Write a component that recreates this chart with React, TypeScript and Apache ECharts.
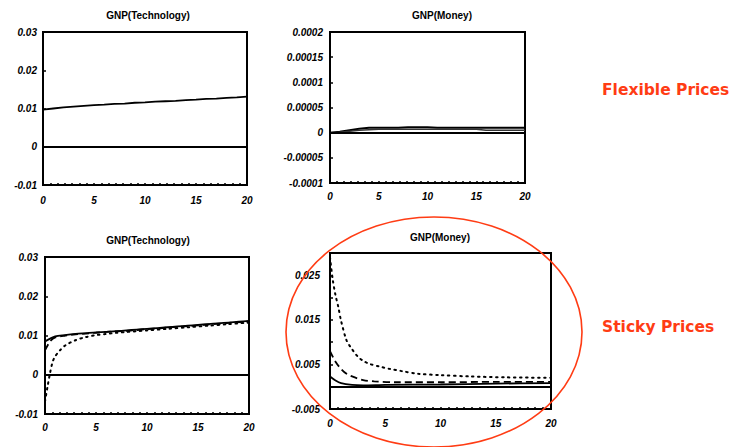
import React, { useEffect, useRef } from "react";
import * as echarts from "echarts";

// ---- data ----
const periods = [0, 1, 2, 3, 4, 5, 6, 7, 8, 9, 10, 11, 12, 13, 14, 15, 16, 17, 18, 19, 20];

// Flexible prices, GNP response to technology shock
const techFlex = [0.0097, 0.0100, 0.0103, 0.0105, 0.0107, 0.0109, 0.0110, 0.0112, 0.0113, 0.0115, 0.0116, 0.0118, 0.0119, 0.0120, 0.0122, 0.0123, 0.0125, 0.0126, 0.0128, 0.0129, 0.0131];

// Flexible prices, GNP response to money shock
const moneyFlexA = [0, 0.000002, 0.000005, 0.000008, 0.00001, 0.00001, 0.00001, 0.00001, 0.000011, 0.000011, 0.000011, 0.00001, 0.00001, 0.00001, 0.00001, 0.00001, 0.00001, 0.00001, 0.00001, 0.00001, 0.00001];
const moneyFlexB = [0, 0.000001, 0.000003, 0.000005, 0.000006, 0.000007, 0.000007, 0.000007, 0.000007, 0.000007, 0.000007, 0.000007, 0.000007, 0.000007, 0.000007, 0.000007, 0.000005, 0.000005, 0.000005, 0.000005, 0.000005];

// Sticky prices, GNP response to technology shock  [period, value]
const techStickySolid = [[0, 0.0085], [1, 0.0098], [2, 0.0101], [3, 0.0104], [4, 0.0106], [5, 0.0108], [6, 0.0109], [7, 0.0111], [8, 0.0113], [9, 0.0115], [10, 0.0117], [11, 0.0119], [12, 0.0121], [13, 0.0123], [14, 0.0125], [15, 0.0127], [16, 0.0129], [17, 0.0131], [18, 0.0133], [19, 0.0135], [20, 0.0137]];
const techStickyDashed = [[0, 0.0062], [0.5, 0.0085], [1, 0.0095], [2, 0.0100], [3, 0.0103], [4, 0.0105], [5, 0.0107], [6, 0.0109], [8, 0.0112], [10, 0.0116], [12, 0.0120], [14, 0.0124], [16, 0.0128], [18, 0.0132], [20, 0.0136]];
const techStickyDotted = [[0, -0.0068], [0.25, -0.003], [0.5, 0.0005], [0.75, 0.0033], [1, 0.0047], [1.5, 0.0063], [2, 0.0075], [3, 0.0088], [4, 0.0096], [5, 0.0101], [6, 0.0104], [7, 0.0107], [8, 0.0109], [9, 0.0111], [10, 0.0113], [12, 0.0117], [14, 0.0121], [16, 0.0125], [18, 0.0129], [20, 0.0133]];

// Sticky prices, GNP response to money shock  [period, value]
const moneyStickySolid = [[0, 0.0023], [0.5, 0.0014], [1, 0.0008], [2, 0.0004], [3, 0.0003], [5, 0.0004], [10, 0.0005], [15, 0.0007], [20, 0.0008]];
const moneyStickyDashed = [[0, 0.0080], [0.5, 0.0056], [1, 0.0040], [1.5, 0.0029], [2, 0.0023], [3, 0.0015], [4, 0.0012], [6, 0.0010], [10, 0.0010], [15, 0.0011], [20, 0.0011]];
const moneyStickyDotted = [[0, 0.0290], [0.25, 0.0240], [0.5, 0.0205], [0.75, 0.0179], [1, 0.0148], [1.5, 0.0104], [2, 0.0084], [2.5, 0.0068], [3, 0.0058], [3.6, 0.0051], [4.5, 0.0045], [5.4, 0.0040], [6.5, 0.0035], [8, 0.0029], [10, 0.0026], [12.7, 0.0023], [16, 0.0021], [20, 0.0020]];

const xTicks = { min: 0, max: 20, interval: 5 };
const panelTitles = ["GNP(Technology)", "GNP(Money)", "GNP(Technology)", "GNP(Money)"];
const rowLabels = ["Flexible Prices", "Sticky Prices"];

const RED = "#ff3c14";
const labelFont = {
  fontFamily: "Liberation Sans, Arial, sans-serif",
  fontWeight: "bold" as const,
  fontStyle: "italic" as const,
  fontSize: 10,
  color: "#000",
};

function xAxis(gridIndex: number, margin: number) {
  return {
    type: "value",
    gridIndex,
    ...xTicks,
    axisLine: { show: true, onZero: false, lineStyle: { color: "#000", width: 2 } },
    axisTick: { show: true, inside: true, length: 2, lineStyle: { color: "#000", width: 1.5 } },
    minorTick: { show: true, splitNumber: 7, length: 2, lineStyle: { color: "#000", width: 1.5 } },
    splitLine: { show: false },
    axisLabel: { ...labelFont, margin },
  };
}

function yAxis(gridIndex: number, min: number, max: number, interval: number, margin: number, formatter: (v: number) => string) {
  return {
    type: "value",
    gridIndex,
    min,
    max,
    interval,
    axisLine: { show: true, onZero: false, lineStyle: { color: "#000", width: 2 } },
    axisTick: { show: true, inside: true, length: 3, lineStyle: { color: "#000", width: 1.5 } },
    splitLine: { show: false },
    axisLabel: { ...labelFont, margin, formatter },
  };
}

const zeroLine = {
  silent: true,
  symbol: "none",
  label: { show: false },
  lineStyle: { color: "#000", width: 2, type: "solid" },
  data: [{ yAxis: 0 }],
};

const solid = { color: "#000", width: 1.8, type: "solid" };
const dashed = { color: "#000", width: 1.8, type: [7, 4] };
const dotted = { color: "#000", width: 2, type: [1.5, 4.5], cap: "round" };

function line(name: string, xi: number, data: any[], lineStyle: any, extra: any = {}) {
  return {
    type: "line",
    name,
    xAxisIndex: xi,
    yAxisIndex: xi,
    data,
    showSymbol: false,
    symbol: "none",
    smooth: 0.3,
    lineStyle,
    ...extra,
  };
}

export default function App() {
  const ref = useRef<HTMLDivElement>(null);
  useEffect(() => {
    if (!ref.current) return;
    const chart = echarts.init(ref.current, null, { renderer: "svg" });
    const pair = (arr: number[]) => arr.map((v, i) => [periods[i], v]);
    const fmtPlain = (v: number) => String(+v.toFixed(6));
    const fmtOdd = (v: number) => {
      const k = Math.round(v * 1000);
      return Math.abs(k % 10) === 5 ? String(+v.toFixed(4)) : "";
    };
    const gridStyle = { show: true, borderColor: "#000", borderWidth: 2, containLabel: false };
    const redText = (text: string, y: number) => ({
      type: "text",
      x: 602,
      y,
      style: {
        text,
        textAlign: "left",
        textVerticalAlign: "middle",
        fontFamily: "DejaVu Sans, Verdana, sans-serif",
        fontWeight: "bold",
        fontSize: 15.5,
        fill: RED,
      },
    });
    chart.setOption({
      animation: false,
      backgroundColor: "#fff",
      grid: [
        { ...gridStyle, left: 43, top: 32, width: 204, height: 153 },
        { ...gridStyle, left: 330, top: 32, width: 195, height: 151 },
        { ...gridStyle, left: 45, top: 257, width: 204, height: 157 },
        { ...gridStyle, left: 330, top: 253, width: 221, height: 156 },
      ],
      xAxis: [xAxis(0, 10), xAxis(1, 8), xAxis(2, 8), xAxis(3, 9)],
      yAxis: [
        yAxis(0, -0.01, 0.03, 0.01, 6, fmtPlain),
        yAxis(1, -0.0001, 0.0002, 0.00005, 7, fmtPlain),
        yAxis(2, -0.01, 0.03, 0.01, 7, fmtPlain),
        yAxis(3, -0.005, 0.03, 0.005, 10, fmtOdd),
      ],
      series: [
        line("techFlex", 0, pair(techFlex), solid, { markLine: zeroLine, smooth: false }),
        line("moneyFlexA", 1, pair(moneyFlexA), { color: "#000", width: 2 }, { markLine: zeroLine, smooth: false }),
        line("moneyFlexB", 1, pair(moneyFlexB), { color: "#333", width: 1.5 }, { smooth: false }),
        line("techStickyDotted", 2, techStickyDotted, dotted, { markLine: zeroLine }),
        line("techStickyDashed", 2, techStickyDashed, dashed),
        line("techStickySolid", 2, techStickySolid, solid),
        line("moneyStickyDotted", 3, moneyStickyDotted, dotted, { markLine: zeroLine }),
        line("moneyStickyDashed", 3, moneyStickyDashed, dashed),
        line("moneyStickySolid", 3, moneyStickySolid, solid),
      ],
      graphic: [
        ...[
          [148, 15],
          [442, 15],
          [148, 240],
          [440, 237],
        ].map(([x, y], i) => ({
          type: "text",
          x,
          y,
          style: {
            text: panelTitles[i],
            textAlign: "center",
            textVerticalAlign: "middle",
            fontFamily: "Liberation Sans, Arial, sans-serif",
            fontWeight: "bold",
            fontSize: 10,
            fill: "#000",
          },
        })),
        redText(rowLabels[0], 90),
        redText(rowLabels[1], 327),
        {
          type: "ellipse",
          shape: { cx: 434, cy: 332, rx: 148, ry: 115 },
          style: { fill: "none", stroke: RED, lineWidth: 1.6 },
          z: 100,
        },
      ],
    });
    return () => chart.dispose();
  }, []);
  return (
    <div
      ref={ref}
      style={{ position: "absolute", left: 0, top: 0, width: 734, height: 447, background: "#fff" }}
    />
  );
}
